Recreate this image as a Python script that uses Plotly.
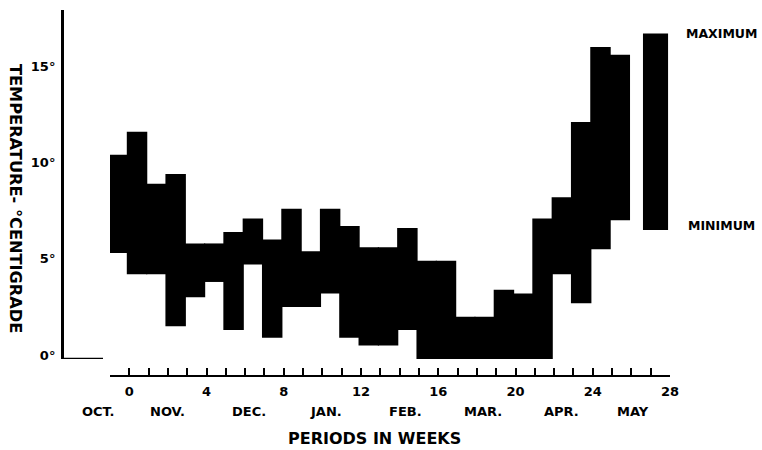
import plotly.graph_objects as go

# Weekly temperature range (deg C); each bar runs from the weekly minimum to the weekly maximum
weeks = list(range(-1, 26))
temp_max = [10.6, 11.8, 9.1, 9.6, 6.0, 6.0, 6.6, 7.3, 6.2, 7.8, 5.6, 7.8, 6.9, 5.8,
            5.8, 6.8, 5.1, 5.1, 2.2, 2.2, 3.6, 3.4, 7.3, 8.4, 12.3, 16.2, 15.8]
temp_min = [5.5, 4.4, 4.4, 1.7, 3.2, 4.0, 1.5, 4.9, 1.1, 2.7, 2.7, 3.4, 1.1, 0.7,
            0.7, 1.5, 0.0, 0.0, 0.0, 0.0, 0.0, 0.0, 0.0, 4.4, 2.9, 5.7, 7.2]

# Key bar explaining the ends of each bar
key_max, key_min = 16.9, 6.7
key_labels = ["MAXIMUM", "MINIMUM"]

tick_weeks = list(range(-1, 29))
labeled_weeks = list(range(0, 29, 4))
temp_ticks = [0, 5, 10, 15]
months = ["OCT.", "NOV.", "DEC.", "JAN.", "FEB.", "MAR.", "APR.", "MAY"]

W, H = 762, 450
FONT = "DejaVu Sans"

# pixel frame of the week axis
X_LEFT, X_RIGHT = 110, 670
WEEK_RANGE = (-1, 28)


def fx(p):
    return p / W


def fy(p):
    return 1 - p / H


def week_to_paper(w):
    span = WEEK_RANGE[1] - WEEK_RANGE[0]
    return fx(X_LEFT + (w - WEEK_RANGE[0]) * (X_RIGHT - X_LEFT) / span)


month_pos = [-1.6, 2.0, 6.2, 10.2, 14.3, 18.3, 22.4, 26.1]

fig = go.Figure()

# bars are drawn a touch wider than a week so neighbours merge into one solid band
fig.add_trace(go.Bar(
    x=weeks,
    y=[hi - lo for hi, lo in zip(temp_max, temp_min)],
    base=temp_min,
    width=1.06, offset=-0.13,
    marker=dict(color="black", line=dict(width=0)),
    hoverinfo="skip", showlegend=False,
))
fig.add_trace(go.Bar(
    x=[27.25], y=[key_max - key_min], base=[key_min],
    width=1.3, offset=-0.65,
    marker=dict(color="black", line=dict(width=0)),
    hoverinfo="skip", showlegend=False,
))
# carrier for the long end ticks of the week axis
fig.add_trace(go.Scatter(x=[-1], y=[0], xaxis="x2", mode="none",
                         hoverinfo="skip", showlegend=False))

tickfont = dict(family=FONT, size=13, color="black", weight="bold")

fig.update_layout(
    width=W, height=H,
    margin=dict(l=0, r=0, t=0, b=0, autoexpand=False),
    paper_bgcolor="white", plot_bgcolor="white",
    barmode="overlay",
    xaxis=dict(
        domain=[fx(X_LEFT), fx(X_RIGHT)], range=list(WEEK_RANGE),
        anchor="free", position=fy(376), automargin=False,
        showline=True, linecolor="black", linewidth=2,
        ticks="inside", ticklen=7, tickwidth=2, tickcolor="black",
        tickmode="array", tickvals=tick_weeks,
        ticktext=[str(w) if w in labeled_weeks else "" for w in tick_weeks],
        tickfont=tickfont, ticklabelstandoff=3,
        showgrid=False, zeroline=False, fixedrange=True,
    ),
    xaxis2=dict(
        domain=[fx(X_LEFT), fx(X_RIGHT)], range=list(WEEK_RANGE), overlaying="x",
        anchor="free", position=fy(376), automargin=False,
        showline=False, ticks="inside", ticklen=16, tickwidth=2, tickcolor="black",
        tickmode="array", tickvals=[-1, 28], ticktext=["", ""],
        showgrid=False, zeroline=False,
    ),
    yaxis=dict(
        domain=[fy(359), fy(10)], range=[0, 18.12],
        anchor="free", position=fx(62), automargin=False,
        showline=True, linecolor="black", linewidth=3,
        ticks="", tickmode="array", tickvals=temp_ticks,
        ticktext=[f"{t}°" for t in temp_ticks],
        tickfont=tickfont, ticklabelstandoff=3, ticklabelshift=-4,
        showgrid=False, zeroline=False, fixedrange=True,
    ),
    shapes=[dict(type="line", xref="paper", yref="y",
                 x0=fx(61), x1=fx(103), y0=0, y1=0,
                 line=dict(color="black", width=2.5))],
)

annotations = []
for name, pos in zip(months, month_pos):
    annotations.append(dict(x=week_to_paper(pos), xref="paper", y=fy(411), yref="paper",
                            text=name, showarrow=False,
                            font=tickfont, xanchor="center", yanchor="middle"))
annotations.append(dict(x=fx(374), y=fy(438), xref="paper", yref="paper",
                        text="PERIODS IN WEEKS", showarrow=False,
                        font=dict(family=FONT, size=16, color="black", weight="bold"),
                        xanchor="center", yanchor="middle"))
annotations.append(dict(x=fx(15), y=fy(198), xref="paper", yref="paper",
                        text="TEMPERATURE- °CENTIGRADE", showarrow=False, textangle=90,
                        font=dict(family=FONT, size=16.2, color="black", weight="bold"),
                        xanchor="center", yanchor="middle"))
for label, val, shift, xw in zip(key_labels, [key_max, key_min], [0, 4], [28.7, 28.85]):
    annotations.append(dict(x=week_to_paper(xw), xref="paper", y=val, yref="y", yshift=shift,
                            text=label, showarrow=False, xanchor="left", yanchor="middle",
                            font=dict(family=FONT, size=12.5, color="black", weight="bold")))
fig.update_layout(annotations=annotations)

fig.write_html("out.html")
